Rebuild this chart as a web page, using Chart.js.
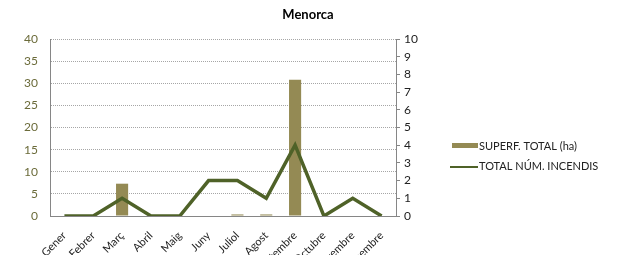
<!DOCTYPE html>
<html>
<head>
<meta charset="utf-8">
<script src="https://cdn.jsdelivr.net/npm/chart.js@4"></script>
<style>
  html, body { margin: 0; padding: 0; background: #fff; }
  #wrap { width: 617px; height: 255px; position: relative; }
</style>
</head>
<body>
<div id="wrap"><canvas id="c" width="617" height="255"></canvas></div>
<script>
const chartTitle = 'Menorca';
const categories = ['Gener', 'Febrer', 'Març', 'Abril', 'Maig', 'Juny', 'Juliol', 'Agost', 'Setembre', 'Octubre', 'Novembre', 'Desembre'];
const surfaceLabel = 'SUPERF. TOTAL (ha)';
const surfaceValues = [0, 0, 7.3, 0, 0, 0, 0.35, 0.35, 30.8, 0, 0, 0];
const firesLabel = 'TOTAL NÚM. INCENDIS';
const firesValues = [0, 0, 1, 0, 0, 2, 2, 1, 4, 0, 1, 0];

const FONT = 'Lato, "Open Sans", sans-serif';
const barColor = '#948a54';
const lineColor = '#4f6228';

const overlay = {
  id: 'overlay',
  afterDraw(chart) {
    const ctx = chart.ctx;
    ctx.save();
    ctx.fillStyle = '#000';
    ctx.font = 'bold 13px ' + FONT;
    ctx.textAlign = 'center';
    ctx.textBaseline = 'middle';
    ctx.fillText(chartTitle, 308, 15);
    // legend
    ctx.font = '11px ' + FONT;
    ctx.textAlign = 'left';
    ctx.fillStyle = barColor;
    ctx.fillRect(452, 143, 26, 5);
    ctx.fillStyle = '#222';
    ctx.fillText(surfaceLabel, 479, 146);
    ctx.strokeStyle = lineColor;
    ctx.lineWidth = 2;
    ctx.beginPath();
    ctx.moveTo(450, 167);
    ctx.lineTo(478, 167);
    ctx.stroke();
    ctx.fillText(firesLabel, 479, 166);
    ctx.restore();
  }
};

new Chart(document.getElementById('c'), {
  data: {
    labels: categories,
    datasets: [
      {
        type: 'line',
        label: firesLabel,
        data: firesValues,
        yAxisID: 'y2',
        borderColor: lineColor,
        backgroundColor: lineColor,
        borderWidth: 3.5,
        pointRadius: 0,
        tension: 0,
        borderJoinStyle: 'miter',
        order: 0
      },
      {
        type: 'bar',
        label: surfaceLabel,
        data: surfaceValues,
        yAxisID: 'y',
        backgroundColor: barColor,
        barPercentage: 1,
        categoryPercentage: 0.42,
        order: 1
      }
    ]
  },
  plugins: [overlay],
  options: {
    responsive: false,
    animation: false,
    layout: { padding: { top: 39, right: 191, left: 0, bottom: 0 } },
    plugins: { legend: { display: false }, title: { display: false }, tooltip: { enabled: false } },
    scales: {
      x: {
        grid: { display: false, drawTicks: false },
        border: { color: '#868686', width: 1 },
        ticks: {
          autoSkip: false,
          maxRotation: 45,
          minRotation: 45,
          color: '#222',
          padding: 13,
          font: { family: FONT, size: 11 }
        },
        afterFit(scale) { scale.height = 39; }
      },
      y: {
        position: 'left',
        min: 0, max: 40,
        ticks: { stepSize: 5, color: '#6b6b3a', padding: 12, font: { family: FONT, size: 12 } },
        grid: { color: '#a6a6a6', drawTicks: false, lineWidth: 1 },
        border: { color: '#868686', dash: [1, 1] },
        afterFit(scale) { scale.width = 50; }
      },
      y2: {
        position: 'right',
        min: 0, max: 10,
        ticks: { stepSize: 1, color: '#222', padding: 4, font: { family: FONT, size: 12 } },
        grid: { drawOnChartArea: false, drawTicks: true, tickLength: 4, color: '#868686' },
        border: { color: '#868686' },
        afterFit(scale) { scale.width = 30; }
      }
    }
  }
});
</script>
</body>
</html>
